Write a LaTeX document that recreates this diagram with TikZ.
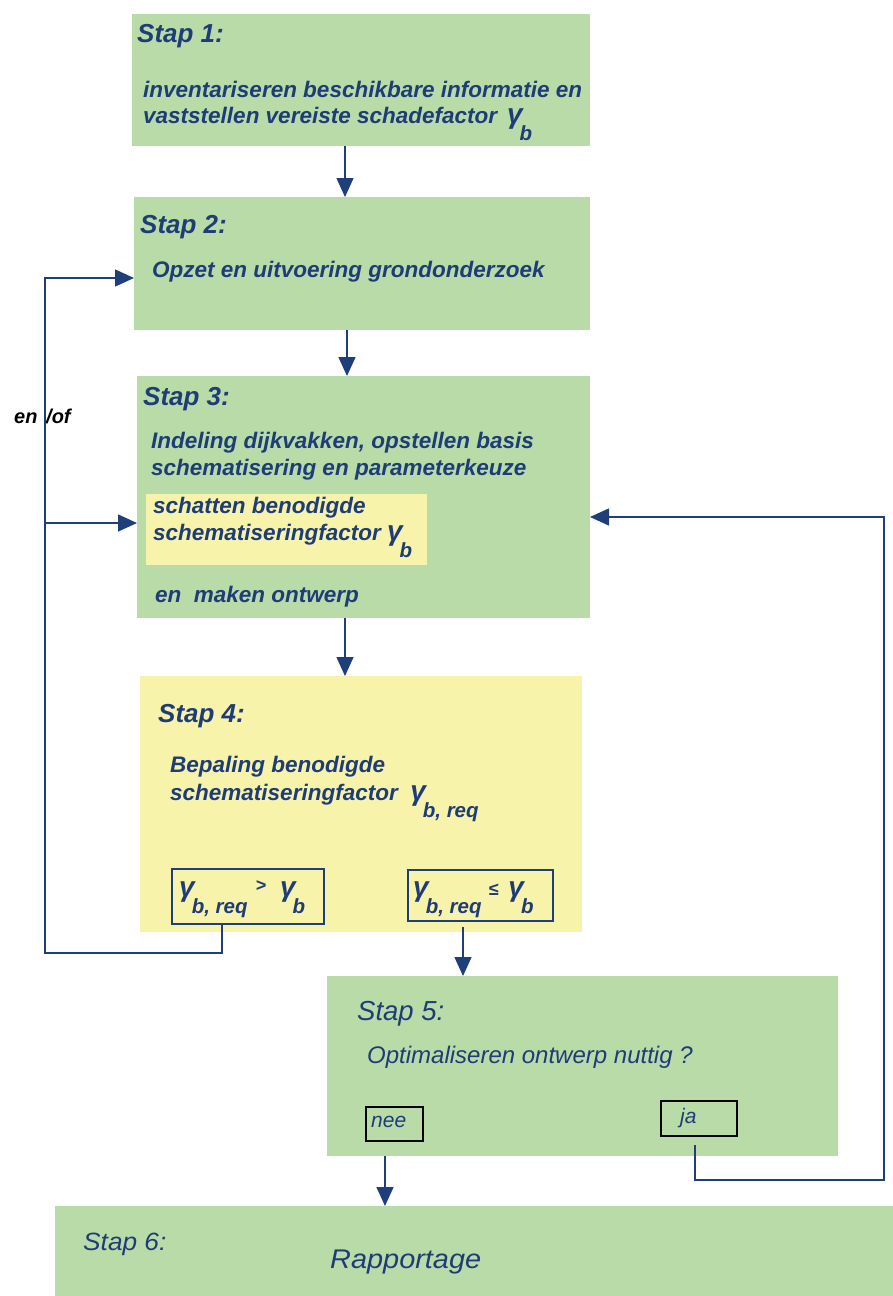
\documentclass[tikz,border=0pt]{standalone}
\usepackage{fontspec}
\usepackage{graphicx}
\setmainfont{Liberation Sans}
\usetikzlibrary{arrows.meta}
\definecolor{sgreen}{HTML}{B8DBA8}
\definecolor{syellow}{HTML}{F7F3AA}
\definecolor{tblue}{HTML}{1E3C78}
\definecolor{lblue}{HTML}{1F3F7A}
\newcommand\gsub[1]{{\fontsize{28}{28}\selectfont γ}\kern-3pt\raisebox{-17pt}{\fontsize{20.5}{20.5}\selectfont #1}}
\begin{document}
\begin{tikzpicture}[x=1pt,y=-1pt,
  gbox/.style={rectangle, anchor=north west, inner sep=0pt, outer sep=0pt, fill=sgreen, draw=none},
  ybox/.style={rectangle, anchor=north west, inner sep=0pt, outer sep=0pt, fill=syellow, draw=none},
  cbox/.style={rectangle, anchor=north west, inner sep=0pt, outer sep=0pt, draw=lblue, line width=1.3pt},
  kbox/.style={rectangle, anchor=north west, inner sep=0pt, outer sep=0pt, draw=black, line width=1.3pt},
  head/.style={anchor=base west, inner sep=0pt, text=tblue, font=\fontsize{26}{26}\selectfont\bfseries\itshape},
  body/.style={anchor=base west, inner sep=0pt, text=tblue, font=\fontsize{22.5}{22.5}\selectfont\bfseries\itshape},
  lite/.style={anchor=base west, inner sep=0pt, text=tblue, font=\fontsize{24}{24}\selectfont\itshape},
  small/.style={anchor=base west, inner sep=0pt, text=tblue, font=\fontsize{21}{21}\selectfont\itshape},
  ln/.style={draw=lblue, line width=1.4pt},
  arr/.style={draw=lblue, line width=1.4pt, -{Triangle[length=19pt,width=17pt]}}
]
\useasboundingbox (0,0) rectangle (893,1296);
% boxes
\node[gbox, minimum width=458, minimum height=132] (s1) at (132,14) {};
\node[gbox, minimum width=456, minimum height=133] (s2) at (134,197) {};
\node[gbox, minimum width=453, minimum height=242] (s3) at (137,376) {};
\node[ybox, minimum width=281, minimum height=71] (s3y) at (146,494) {};
\node[ybox, minimum width=442, minimum height=256] (s4) at (140,676) {};
\node[cbox, minimum width=152, minimum height=55] (gt) at (172,869) {};
\node[cbox, minimum width=145, minimum height=51] (le) at (408,870) {};
\node[gbox, minimum width=511, minimum height=180] (s5) at (327,976) {};
\node[kbox, minimum width=57, minimum height=34] (nee) at (366,1107) {};
\node[kbox, minimum width=76, minimum height=35] (ja) at (661,1101) {};
\node[gbox, minimum width=838, minimum height=90] (s6) at (55,1206) {};
% texts stap 1
\node[head] (t1) at (137,42) {Stap 1:};
\node[body] (t1a) at (143,97) {inventariseren beschikbare informatie en};
\node[body] (t1b) at (143,123) {vaststellen vereiste schadefactor \,\gsub{b}};
% stap 2
\node[head] (t2) at (140,233) {Stap 2:};
\node[body] (t2a) at (152,277) {Opzet en uitvoering grondonderzoek};
% stap 3
\node[head] (t3) at (143,405) {Stap 3:};
\node[body] (t3a) at (151,448) {Indeling dijkvakken, opstellen basis};
\node[body] (t3b) at (151,475) {schematisering en parameterkeuze};
\node[body] (t3c) at (153,513) {schatten benodigde};
\node[body] (t3d) at (153,540) {schematiseringfactor \gsub{b}};
\node[body] (t3e) at (155,602) {en\ \ maken ontwerp};
% stap 4
\node[head] (t4) at (158,722) {Stap 4:};
\node[body] (t4a) at (170,772) {Bepaling benodigde};
\node[body] (t4b) at (170,800) {schematiseringfactor \ \gsub{b, req}};
\node[body] (tgt) at (179,896) {\gsub{b, req}\hspace{8pt}\raisebox{5pt}{\fontsize{18}{18}\selectfont >}\hspace{14pt}\gsub{b}};
\node[body] (tle) at (413,896) {\gsub{b, req}\hspace{7pt}\raisebox{1pt}{\fontsize{18}{18}\selectfont ≤}\hspace{10pt}\gsub{b}};
% stap 5
\node[head, font=\fontsize{27.5}{27.5}\selectfont\itshape] (t5) at (357,1020) {Stap 5:};
\node[lite] (t5a) at (367,1063) {Optimaliseren ontwerp nuttig ?};
\node[small] (tnee) at (371,1127) {nee};
\node[small] (tja) at (680,1123) {ja};
% stap 6
\node[anchor=base west, inner sep=0pt, text=tblue, font=\fontsize{25}{25}\selectfont\itshape] (t6) at (83,1250) {\scalebox{1.05}[1]{Stap 6:}};
\node[anchor=base west, inner sep=0pt, text=tblue, font=\fontsize{27}{27}\selectfont\itshape] (t6a) at (330,1268) {\scalebox{1.07}[1]{Rapportage}};
% en/of
\node[anchor=base west, inner sep=0pt, font=\fontsize{20}{20}\selectfont\bfseries\itshape] (ten) at (14,423) {en};
\node[anchor=base west, inner sep=0pt, font=\fontsize{20}{20}\selectfont\bfseries\itshape] (tof) at (46,423) {/of};
% coordinates
\coordinate (x12) at (345,0);
\coordinate (x23) at (347,0);
\coordinate (x34) at (345,0);
\coordinate (lx) at (463,0);
\coordinate (nx) at (385,0);
\coordinate (gx) at (222,0);
\coordinate (jx) at (695,0);
\coordinate (lb) at (45,953);
\coordinate (lt) at (45,278);
\coordinate (lm) at (45,523);
\coordinate (rb) at (884,1180);
\coordinate (rt) at (884,517);
% connectors
\draw[arr] (s1.south -| x12) -- (s2.north -| x12);
\draw[arr] (s2.south -| x23) -- (s3.north -| x23);
\draw[arr] (s3.south -| x34) -- (s4.north -| x34);
\draw[arr, shorten <=6pt] (le.south -| lx) -- (s5.north -| lx);
\draw[arr] (s5.south -| nx) -- (s6.north -| nx);
\draw[arr] (gt.south -| gx) |- (lb) -- (lt) -- (s2.west |- lt);
\draw[arr] (lm) -- (s3.west |- lm);
\draw[arr, shorten <=9pt] (ja.south -| jx) |- (rb) -- (rt) -- (s3.east |- rt);
\end{tikzpicture}
\end{document}
